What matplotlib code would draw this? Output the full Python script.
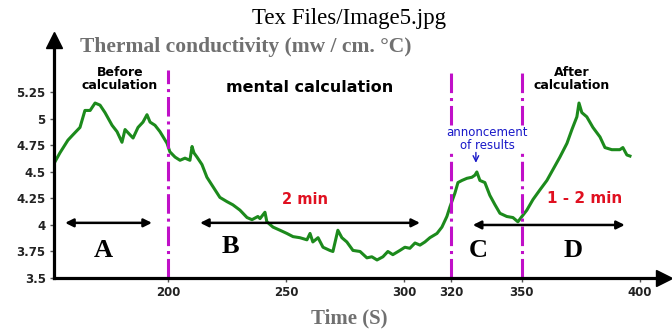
import numpy as np
import matplotlib
matplotlib.use("Agg")
import matplotlib.pyplot as plt

# time (s) and thermal conductivity
time_s = [151.7, 154.2, 157.6, 159.7, 162.7, 164.8, 167.0, 169.1, 171.2, 173.3,
          176.3, 178.4, 180.5, 181.8, 183.9, 185.2, 187.3, 189.4, 191.1, 192.4,
          194.5, 196.6, 199.6, 200.8, 203.0, 205.1, 207.2, 209.3, 210.2, 211.0,
          212.3, 214.4, 216.5, 219.1, 222.0, 225.0, 227.5, 230.5, 233.5, 235.6,
          238.1, 239.0, 241.1, 241.9, 244.5, 247.5, 250.4, 253.0, 255.9, 258.9,
          260.2, 261.4, 263.6, 265.7, 268.6, 269.9, 272.0, 273.7, 275.8, 278.4,
          281.4, 284.3, 286.4, 288.6, 291.1, 293.2, 295.3, 298.3, 300.4, 302.5,
          304.7, 306.8, 308.9, 311.0, 314.0, 316.1, 318.2, 319.5, 321.6, 322.9,
          324.6, 326.7, 328.8, 330.1, 330.9, 332.2, 334.3, 336.4, 338.6, 340.7,
          343.6, 346.2, 348.3, 350.0, 352.1, 354.7, 357.6, 360.6, 363.1, 366.1,
          369.1, 371.2, 373.3, 374.2, 375.4, 377.5, 380.1, 383.1, 385.2, 388.1,
          391.5, 392.8, 394.5, 395.8]
conductivity = [4.58, 4.68, 4.80, 4.85, 4.92, 5.08, 5.08, 5.15, 5.13, 5.06,
                4.94, 4.88, 4.78, 4.90, 4.85, 4.82, 4.92, 4.97, 5.04, 4.97,
                4.94, 4.88, 4.77, 4.69, 4.64, 4.61, 4.63, 4.61, 4.74, 4.68,
                4.64, 4.57, 4.45, 4.36, 4.26, 4.22, 4.19, 4.14, 4.07, 4.05,
                4.08, 4.06, 4.12, 4.03, 3.98, 3.95, 3.92, 3.89, 3.88, 3.86,
                3.92, 3.84, 3.88, 3.79, 3.76, 3.75, 3.95, 3.88, 3.84, 3.76,
                3.75, 3.69, 3.70, 3.67, 3.70, 3.75, 3.72, 3.76, 3.79, 3.78,
                3.83, 3.81, 3.84, 3.88, 3.92, 3.98, 4.08, 4.17, 4.30, 4.40,
                4.42, 4.44, 4.45, 4.47, 4.50, 4.42, 4.40, 4.28, 4.19, 4.11,
                4.08, 4.07, 4.03, 4.08, 4.14, 4.24, 4.33, 4.42, 4.52, 4.64,
                4.77, 4.90, 5.02, 5.15, 5.06, 5.02, 4.92, 4.83, 4.73, 4.71,
                4.71, 4.73, 4.66, 4.65]

yticks = [3.5, 3.75, 4, 4.25, 4.5, 4.75, 5, 5.25]
ytick_labels = ["3.5", "3.75", "4", "4.25", "4.5", "4.75", "5", "5.25"]
xticks = [200, 250, 300, 320, 350, 400]
phase_bounds = [200, 320, 350]

green = "#1c8a1c"
purple = "#c010c8"
sans = "DejaVu Sans"
serif = "Liberation Serif"

fig = plt.figure(figsize=(6.72, 3.30), dpi=100)
ax = fig.add_axes([0.0804, 0.1576, 0.9076, 0.7214])
ax.set_xlim(151.7, 410.2)
ax.set_ylim(3.5, 5.745)

ax.plot(time_s, conductivity, color=green, lw=2.2, solid_joinstyle="round")

# phase boundaries (dash-dot), broken around the blue note
for xb in phase_bounds:
    if xb == 200:
        ax.plot([xb, xb], [3.5, 5.46], color=purple, lw=2.2, ls="-.")
    else:
        ax.plot([xb, xb], [3.5, 4.68], color=purple, lw=2.2, ls="-.")
        ax.plot([xb, xb], [4.94, 5.46], color=purple, lw=2.2, ls="-.")

# spines + arrow heads
for s in ["top", "right"]:
    ax.spines[s].set_visible(False)
for s in ["left", "bottom"]:
    ax.spines[s].set_linewidth(2.3)
ax.plot([0], [1.0], marker="^", ms=11, color="black", transform=ax.transAxes, clip_on=False)
ax.plot([1.0], [0], marker=">", ms=11, color="black", transform=ax.transAxes, clip_on=False)

ax.set_yticks(yticks)
ax.set_yticklabels(ytick_labels)
ax.set_xticks(xticks)
ax.set_xticklabels([str(t) for t in xticks])
ax.tick_params(axis="both", length=3, width=1, color="#555555", pad=3)
for lab in ax.get_xticklabels() + ax.get_yticklabels():
    lab.set_fontfamily(sans)
    lab.set_fontweight("bold")
    lab.set_fontsize(8.5)
    lab.set_color("#222222")

# double arrows
for x0, x1, yy in [(156.4, 193.2, 4.02), (213.6, 306.8, 4.02), (329.2, 393.6, 4.0)]:
    ax.annotate("", xy=(x0, yy), xytext=(x1, yy),
                arrowprops=dict(arrowstyle="<|-|>", color="black", lw=1.8,
                                mutation_scale=12, shrinkA=0, shrinkB=0))

# phase letters
for letter, lx, ly in [("A", 172.5, 3.76), ("B", 226.3, 3.80), ("C", 331.4, 3.76), ("D", 371.6, 3.76)]:
    ax.text(lx, ly, letter, family=serif, weight="bold", fontsize=19,
            ha="center", va="center")

ax.text(179.7, 5.375, "Before\ncalculation", family=sans, weight="bold", fontsize=9,
        ha="center", va="center", linespacing=1.0)
ax.text(371.0, 5.375, "After\ncalculation", family=sans, weight="bold", fontsize=9,
        ha="center", va="center", linespacing=1.0)
ax.text(260.2, 5.30, "mental calculation", family=sans, weight="bold", fontsize=11.5,
        ha="center", va="center")
ax.text(258.0, 4.24, "2 min", family=sans, weight="bold", fontsize=10.5,
        color="#e01020", ha="center", va="center")
ax.text(376.7, 4.245, "1 - 2 min", family=sans, weight="bold", fontsize=11,
        color="#e01020", ha="center", va="center")
ax.text(335.2, 4.81, "annoncement\nof results", family=sans, fontsize=8.5,
        color="#1818c8", ha="center", va="center", linespacing=1.0)
ax.annotate("", xy=(330.5, 4.56), xytext=(330.5, 4.71),
            arrowprops=dict(arrowstyle="->", color="#1818c8", lw=1.0))

fig.text(0.519, 0.945, "Tex Files/Image5.jpg", family=serif, fontsize=16.5,
         ha="center", va="center")
fig.text(0.119, 0.858, "Thermal conductivity (mw / cm. \u00b0C)", family=serif,
         weight="bold", fontsize=15.5, color="#707070", ha="left", va="center")
fig.text(0.519, 0.036, "Time (S)", family=serif, weight="bold", fontsize=15,
         color="#707070", ha="center", va="center")

fig.savefig("out.png", dpi=100)
